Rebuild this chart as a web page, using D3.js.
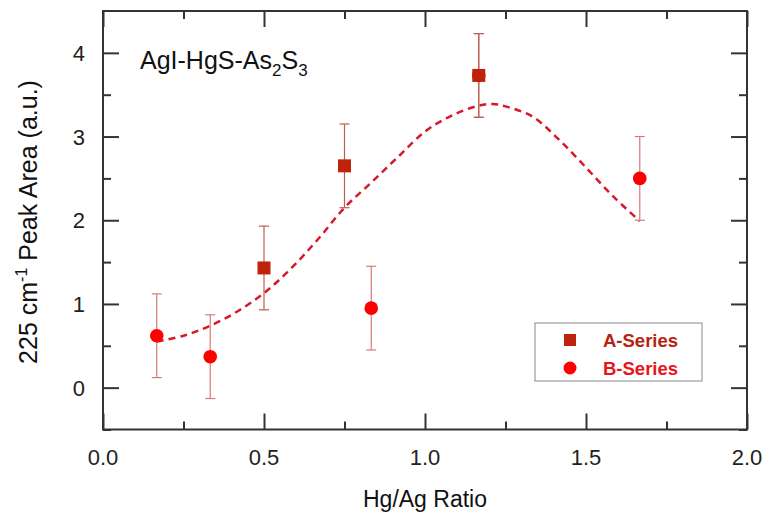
<!DOCTYPE html>
<html><head><meta charset="utf-8">
<script src="https://cdn.jsdelivr.net/npm/d3@7"></script>
<style>body{margin:0;background:#fff}svg{display:block;font-family:"Liberation Sans",Arial,sans-serif}</style>
</head><body><svg id="c" width="764" height="515"></svg>
<script>
const aX = [0.5, 0.75, 1.167];
const aY = [1.43, 2.65, 3.73];
const aErr = [0.5, 0.5, 0.5];
const bX = [0.167, 0.333, 0.833, 1.167, 1.667];
const bY = [0.62, 0.37, 0.95, 3.73, 2.50];
const bErr = [0.5, 0.5, 0.5, 0.5, 0.5];
const fitX = [0.167,0.25,0.333,0.417,0.5,0.583,0.667,0.75,0.833,0.917,1.0,1.083,1.167,1.21,1.25,1.333,1.417,1.5,1.583,1.667];
const fitY = [0.55,0.62,0.74,0.91,1.13,1.42,1.77,2.15,2.45,2.76,3.06,3.25,3.37,3.39,3.36,3.24,2.96,2.63,2.29,1.99];
const xTicks = [0.0, 0.5, 1.0, 1.5, 2.0];
const yTicks = [0, 1, 2, 3, 4];

const svg = d3.select("#c");
const L = 103, R = 747, T = 11, B = 429.5;
const x = d3.scaleLinear().domain([0, 2]).range([L, R]);
const y = d3.scaleLinear().domain([-0.5, 4.5]).range([B, T]);
const axisCol = "#333";
const FF = "Liberation Sans, Arial, sans-serif";

// axes (ticks only, inward)
const gB = svg.append("g").attr("transform", `translate(0,${B})`)
  .call(d3.axisBottom(x).tickValues(xTicks).tickFormat("").tickSizeInner(-16).tickSizeOuter(0));
const gBm = svg.append("g").attr("transform", `translate(0,${B})`)
  .call(d3.axisBottom(x).tickValues(d3.range(0.25, 2, 0.5)).tickFormat("").tickSizeInner(-8).tickSizeOuter(0));
const gT = svg.append("g").attr("transform", `translate(0,${T})`)
  .call(d3.axisTop(x).tickValues(xTicks).tickFormat("").tickSizeInner(-16).tickSizeOuter(0));
const gTm = svg.append("g").attr("transform", `translate(0,${T})`)
  .call(d3.axisTop(x).tickValues(d3.range(0.25, 2, 0.5)).tickFormat("").tickSizeInner(-8).tickSizeOuter(0));
const gL = svg.append("g").attr("transform", `translate(${L},0)`)
  .call(d3.axisLeft(y).tickValues(yTicks).tickFormat("").tickSizeInner(-16).tickSizeOuter(0));
const gLm = svg.append("g").attr("transform", `translate(${L},0)`)
  .call(d3.axisLeft(y).tickValues(d3.range(-0.5, 4.5, 1)).tickFormat("").tickSizeInner(-8).tickSizeOuter(0));
const gR = svg.append("g").attr("transform", `translate(${R},0)`)
  .call(d3.axisRight(y).tickValues(yTicks).tickFormat("").tickSizeInner(-16).tickSizeOuter(0));
const gRm = svg.append("g").attr("transform", `translate(${R},0)`)
  .call(d3.axisRight(y).tickValues(d3.range(-0.5, 4.5, 1)).tickFormat("").tickSizeInner(-8).tickSizeOuter(0));
[gB,gBm,gT,gTm,gL,gLm,gR,gRm].forEach(g => {
  g.select(".domain").remove();
  g.selectAll("line").attr("stroke", axisCol).attr("stroke-width", 2);
});
svg.append("rect").attr("x", L).attr("y", T).attr("width", R - L).attr("height", B - T)
  .attr("fill", "none").attr("stroke", axisCol).attr("stroke-width", 2);

// tick labels
svg.append("g").selectAll("text").data(xTicks).join("text")
  .attr("x", d => x(d)).attr("y", 465).attr("text-anchor", "middle")
  .attr("font-family", FF).attr("font-size", 22).attr("fill", "#222").text(d3.format(".1f"));
svg.append("g").selectAll("text").data(yTicks).join("text")
  .attr("x", 85).attr("y", d => y(d) + 8).attr("text-anchor", "end")
  .attr("font-family", FF).attr("font-size", 22).attr("fill", "#222").text(d3.format("d"));

// fit curve
const fit = fitX.map((d, i) => [d, fitY[i]]);
svg.append("path").datum(fit)
  .attr("d", d3.line().x(d => x(d[0])).y(d => y(d[1])).curve(d3.curveCatmullRom))
  .attr("fill", "none").attr("stroke", "#D7192A").attr("stroke-width", 2.5).attr("stroke-dasharray", "7,5");

// error bars
function errBars(xs, ys, es, col) {
  const g = svg.append("g").attr("stroke", col).attr("stroke-width", 1.2);
  xs.forEach((xv, i) => {
    g.append("line").attr("x1", x(xv)).attr("x2", x(xv)).attr("y1", y(ys[i] - es[i])).attr("y2", y(ys[i] + es[i]));
    [ys[i] - es[i], ys[i] + es[i]].forEach(v => g.append("line")
      .attr("x1", x(xv) - 5).attr("x2", x(xv) + 5).attr("y1", y(v)).attr("y2", y(v)));
  });
}
errBars(bX, bY, bErr, "#D9777A");
errBars(aX, aY, aErr, "#B9604F");

// B series circles
svg.append("g").selectAll("circle").data(bX).join("circle")
  .attr("cx", d => x(d)).attr("cy", (d, i) => y(bY[i])).attr("r", 6.8).attr("fill", "#FF0000");
// A series squares
const s = 13;
svg.append("g").selectAll("rect").data(aX).join("rect")
  .attr("x", d => x(d) - s / 2).attr("y", (d, i) => y(aY[i]) - s / 2).attr("width", s).attr("height", s)
  .attr("fill", "#C0230C");

// annotation
const ann = svg.append("text").attr("x", 140).attr("y", 69).attr("font-size", 25).attr("fill", "#111").attr("font-family", FF);
ann.append("tspan").text("AgI-HgS-As");
ann.append("tspan").text("2").attr("font-size", 17).attr("dy", 7);
ann.append("tspan").text("S").attr("dy", -7);
ann.append("tspan").text("3").attr("font-size", 17).attr("dy", 7);

// axis titles
svg.append("text").attr("x", 425).attr("y", 507).attr("text-anchor", "middle")
  .attr("font-size", 23).attr("fill", "#111").attr("font-family", FF).text("Hg/Ag Ratio");
const yl = svg.append("text").attr("transform", `translate(37,222) rotate(-90)`)
  .attr("text-anchor", "middle").attr("font-size", 25).attr("fill", "#111").attr("font-family", FF);
yl.append("tspan").text("225 cm");
yl.append("tspan").text("-1").attr("font-size", 16).attr("dy", -10);
yl.append("tspan").text(" Peak Area (a.u.)").attr("dy", 10);

// legend
const lg = svg.append("g");
lg.append("rect").attr("x", 535).attr("y", 323).attr("width", 167).attr("height", 58)
  .attr("fill", "#fff").attr("stroke", "#888").attr("stroke-width", 1);
lg.append("rect").attr("x", 570 - 6).attr("y", 340 - 6).attr("width", 12).attr("height", 12).attr("fill", "#C0230C");
lg.append("circle").attr("cx", 570).attr("cy", 368).attr("r", 6.5).attr("fill", "#FF0000");
lg.append("text").attr("x", 603).attr("y", 346.5).attr("font-size", 18.5).attr("font-weight", "bold")
  .attr("fill", "#B8230E").attr("font-family", FF).text("A-Series");
lg.append("text").attr("x", 603).attr("y", 374.5).attr("font-size", 18.5).attr("font-weight", "bold")
  .attr("fill", "#E8141C").attr("font-family", FF).text("B-Series");
</script></body></html>
